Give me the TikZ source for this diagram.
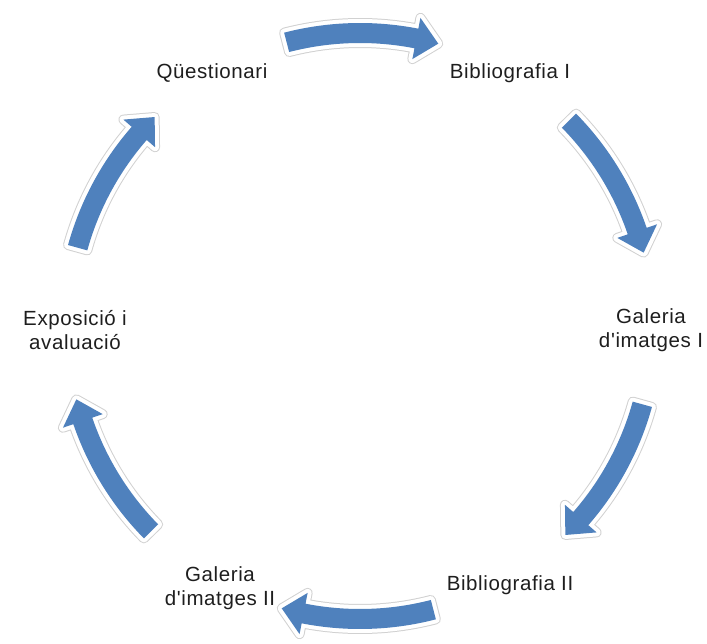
\documentclass[tikz,border=0pt]{standalone}
\usepackage{fontspec}
\setmainfont[LetterSpace=3,Ligatures=TeXOff]{Liberation Sans}
\definecolor{arrowblue}{RGB}{79,129,189}
\definecolor{txt}{RGB}{30,30,30}
\tikzset{
  lbl/.style={font=\fontsize{20.5}{24}\selectfont, text=txt, align=center, inner sep=0pt},
  blockarrow/.style={fill=arrowblue, line join=round,
    preaction={draw=black!18, line width=10pt, line join=round},
    preaction={draw=white, line width=8pt, line join=round}},
  cyarrow/.pic={
    \path[blockarrow]
      (14.5:303pt) arc[start angle=14.5, end angle=-11.1, radius=303pt]
      -- (-11.1:314pt) -- (-15.5:293pt) -- (-11.1:272pt) -- (-11.1:283pt)
      arc[start angle=-11.1, end angle=14.5, radius=283pt] -- cycle;
  }
}
\begin{document}
\begin{tikzpicture}[x=1pt,y=1pt]
\useasboundingbox (-360,-317) rectangle (347,326);
% labels
\node[lbl] (q)  at (-148,253) {Qüestionari};
\node[lbl] (b1) at (150,253)  {Bibliografia I};
\node[lbl] (g1) at (291,-4)   {Galeria\\d'imatges I};
\node[lbl] (b2) at (150,-259) {Bibliografia II};
\node[lbl] (g2) at (-140,-262) {Galeria\\d'imatges II};
\node[lbl] (e)  at (-285,-4)  {Exposició i\\avaluació};
% block arrows
\foreach \m in {90,30,-30,-90,-150,150}{
  \pic[rotate=\m] at (0,0) {cyarrow};
}
\end{tikzpicture}
\end{document}
